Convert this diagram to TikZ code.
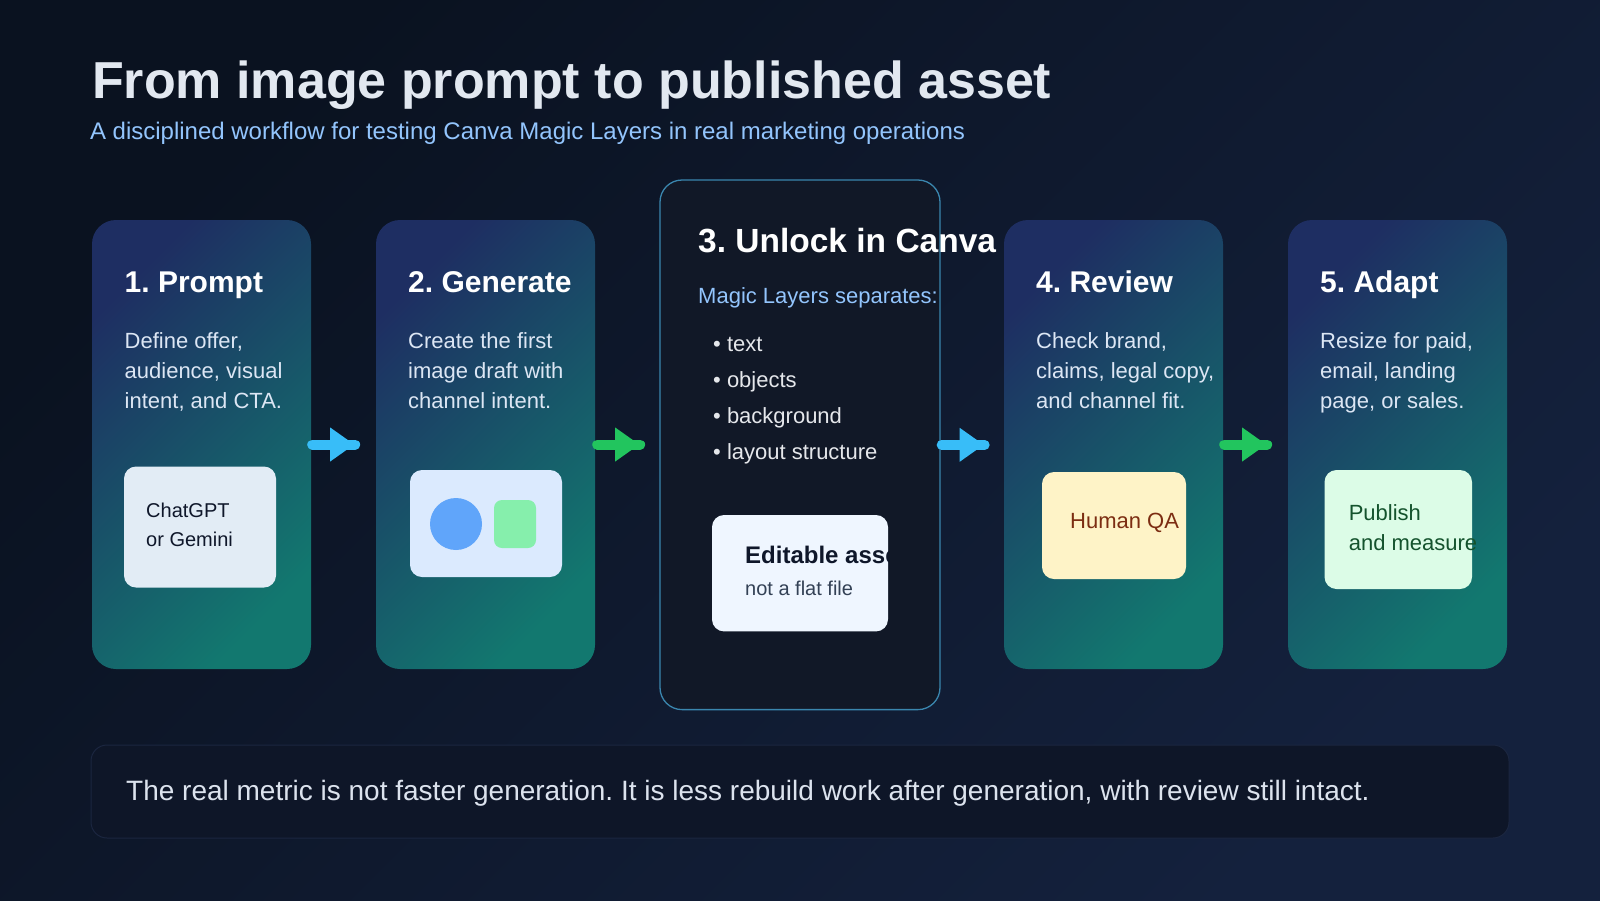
\documentclass[tikz,border=0pt]{standalone}
\usepackage{fontspec}
\setmainfont{Liberation Sans}
\usetikzlibrary{calc}
\definecolor{bgA}{HTML}{0A1220}
\definecolor{bgB}{HTML}{14213D}
\definecolor{cardA}{HTML}{1E2E62}
\definecolor{cardB}{HTML}{12786F}
\definecolor{cardthree}{HTML}{111827}
\definecolor{cardedge}{HTML}{3A86AE}
\definecolor{titlecol}{HTML}{E2E8F0}
\definecolor{subcol}{HTML}{93C5FD}
\definecolor{bodycol}{HTML}{DCE6F4}
\definecolor{bulletcol}{HTML}{E5E7EB}
\definecolor{darktext}{HTML}{0F172A}
\definecolor{graytext}{HTML}{334155}
\definecolor{boxone}{HTML}{E2ECF5}
\definecolor{boxtwo}{HTML}{DBEAFE}
\definecolor{boxthree}{HTML}{EFF6FF}
\definecolor{boxfour}{HTML}{FEF3C7}
\definecolor{boxfive}{HTML}{DCFCE7}
\definecolor{qabrown}{HTML}{7C2D12}
\definecolor{pubgreen}{HTML}{14532D}
\definecolor{dotblue}{HTML}{60A5FA}
\definecolor{sqgreen}{HTML}{86EFAC}
\definecolor{arrblue}{HTML}{38BDF8}
\definecolor{arrgreen}{HTML}{22C55E}
\definecolor{notefill}{HTML}{0E1628}
\definecolor{noteedge}{HTML}{1B2640}
\definecolor{notetext}{HTML}{DCE3EE}
\newcommand\fsz[1]{\fontsize{#1}{#1}\selectfont}
\newcommand\flowarrow[2]{%
  \draw[line width=10pt, line cap=round, #2] ($(#1)+(5,0)$) -- ($(#1)+(48,0)$);
  \fill[#2] ($(#1)+(23,-17)$) -- ($(#1)+(47,0)$) -- ($(#1)+(23,17)$) -- cycle;}
\tikzset{
  card/.style={rounded corners=24pt, minimum width=219pt, minimum height=449pt, inner sep=0pt,
    left color=cardA, right color=cardB, shading angle=45},
  cardmid/.style={rounded corners=22pt, minimum width=280pt, minimum height=529.6pt, inner sep=0pt,
    fill=cardthree, draw=cardedge, line width=1.3pt},
  inbox/.style={rounded corners=12pt, inner sep=0pt},
  ttl/.style={anchor=base west, inner sep=0pt, text=white, font=\fsz{30}\bfseries},
  body/.style={anchor=base west, inner sep=0pt, text=bodycol, font=\fsz{22}},
  txt/.style={anchor=base west, inner sep=0pt},
}
\frenchspacing
\begin{document}
\begin{tikzpicture}[x=1pt, y=-1pt]
\useasboundingbox (0,0) rectangle (1600,900);
\shade[left color=bgA, right color=bgB, shading angle=45] (0,0) rectangle (1600,900);

% title
\node[txt, text=titlecol, font=\fsz{52}\bfseries] (title) at (91.8,98.3) {From image prompt to published asset};
\node[txt, text=subcol, font=\fsz{24}] (subtitle) at (89.8,139.3) {A disciplined workflow for testing Canva Magic Layers in real marketing operations};

% cards
\node[card] (c1) at (201.5,444.5) {};
\node[card] (c2) at (485.5,444.5) {};
\node[cardmid] (c3) at (800,444.8) {};
\node[card] (c4) at (1113.5,444.5) {};
\node[card] (c5) at (1397.5,444.5) {};

% card 1
\node[ttl] (t1) at (124.5,292) {1. Prompt};
\node[body] (b1a) at (124.5,348) {Define offer,};
\node[body] (b1b) at (124.5,378) {audience, visual};
\node[body] (b1c) at (124.5,408) {intent, and CTA.};
\node[inbox, fill=boxone, minimum width=152pt, minimum height=121pt] (i1) at (200,527) {};
\node[txt, text=darktext, font=\fsz{20}] (i1a) at (146,517) {ChatGPT};
\node[txt, text=darktext, font=\fsz{20}] (i1b) at (146,546) {or Gemini};

% card 2
\node[ttl] (t2) at (408,292) {2. Generate};
\node[body] (b2a) at (408,348) {Create the first};
\node[body] (b2b) at (408,378) {image draft with};
\node[body] (b2c) at (408,408) {channel intent.};
\node[inbox, fill=boxtwo, minimum width=152pt, minimum height=107pt] (i2) at (486,523.5) {};
\node[circle, fill=dotblue, minimum size=52pt, inner sep=0pt] (dot) at (456,524) {};
\node[rounded corners=8pt, fill=sqgreen, minimum width=42pt, minimum height=48pt, inner sep=0pt] (sq) at (515,524) {};

% card 3
\node[txt, text=white, font=\fsz{33.5}\bfseries] (t3) at (698,252.5) {3. Unlock in Canva};
\node[txt, text=subcol, font=\fsz{22}] (b3) at (698,303) {Magic Layers separates:};
\node[txt, text=bulletcol, font=\fsz{22}] (l1) at (713,351.8) {• text};
\node[txt, text=bulletcol, font=\fsz{22}] (l2) at (713,387.5) {• objects};
\node[txt, text=bulletcol, font=\fsz{22}] (l3) at (713,423) {• background};
\node[txt, text=bulletcol, font=\fsz{22}] (l4) at (713,459.5) {• layout structure};
\node[inbox, fill=boxthree, minimum width=176pt, minimum height=116.4pt] (i3) at (800,573.2) {};
\begin{scope}
  \clip[rounded corners=12pt] (712,515) rectangle (888,631.4);
  \node[txt, text=darktext, font=\fsz{24}\bfseries] (i3a) at (745,563.5) {Editable asset};
\end{scope}
\node[txt, text=graytext, font=\fsz{20}] (i3b) at (745,595) {not a flat file};

% card 4
\node[ttl] (t4) at (1036,292) {4. Review};
\node[body] (b4a) at (1036,348) {Check brand,};
\node[body] (b4b) at (1036,378) {claims, legal copy,};
\node[body] (b4c) at (1036,408) {and channel fit.};
\node[inbox, fill=boxfour, minimum width=144pt, minimum height=107pt] (i4) at (1114,525.5) {};
\node[txt, text=qabrown, font=\fsz{22}] (i4a) at (1070,528) {Human QA};

% card 5
\node[ttl] (t5) at (1320,292) {5. Adapt};
\node[body] (b5a) at (1320,348) {Resize for paid,};
\node[body] (b5b) at (1320,378) {email, landing};
\node[body] (b5c) at (1320,408) {page, or sales.};
\node[inbox, fill=boxfive, minimum width=147.5pt, minimum height=119pt] (i5) at (1398.25,529.5) {};
\node[txt, text=pubgreen, font=\fsz{22}] (i5a) at (1348.6,520) {Publish};
\node[txt, text=pubgreen, font=\fsz{22}] (i5b) at (1348.6,550) {and measure};

% connectors
\coordinate (s1) at ($(c1.east)+(-4,0)$);
\coordinate (s2) at ($(c2.east)+(-3,0)$);
\coordinate (s3) at ($(c3.east)+(-4,0)$);
\coordinate (s4) at ($(c4.east)+(-4,0)$);
\flowarrow{s1}{arrblue}
\flowarrow{s2}{arrgreen}
\flowarrow{s3}{arrblue}
\flowarrow{s4}{arrgreen}

% bottom note
\node[rounded corners=16pt, fill=notefill, draw=noteedge, line width=1pt, minimum width=1418pt, minimum height=93pt, inner sep=0pt] (note) at (800,791.5) {};
\node[txt, text=notetext, font=\fsz{28}] (notetxt) at (126,800.7) {The real metric is not faster generation. It is less rebuild work after generation, with review still intact.};
\end{tikzpicture}
\end{document}
